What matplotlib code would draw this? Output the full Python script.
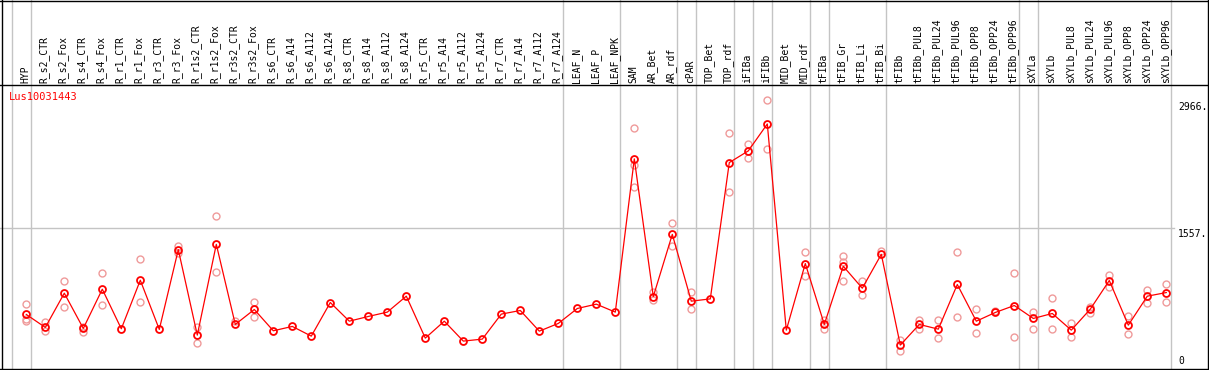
import numpy as np
import matplotlib
matplotlib.use("Agg")
import matplotlib.pyplot as plt

categories = ["HYP", "R_s2_CTR", "R_s2_Fox", "R_s4_CTR", "R_s4_Fox", "R_r1_CTR", "R_r1_Fox",
              "R_r3_CTR", "R_r3_Fox", "R_r1s2_CTR", "R_r1s2_Fox", "R_r3s2_CTR", "R_r3s2_Fox",
              "R_s6_CTR", "R_s6_A14", "R_s6_A112", "R_s6_A124", "R_s8_CTR", "R_s8_A14",
              "R_s8_A112", "R_s8_A124", "R_r5_CTR", "R_r5_A14", "R_r5_A112", "R_r5_A124",
              "R_r7_CTR", "R_r7_A14", "R_r7_A112", "R_r7_A124", "LEAF_N", "LEAF_P", "LEAF_NPK",
              "SAM", "AR_Bet", "AR_rdf", "cPAR", "TOP_Bet", "TOP_rdf", "iFIBa", "iFIBb",
              "MID_Bet", "MID_rdf", "tFIBa", "tFIB_Gr", "tFIB_Li", "tFIB_Bi", "tFIBb",
              "tFIBb_PUL8", "tFIBb_PUL24", "tFIBb_PUL96", "tFIBb_OPP8", "tFIBb_OPP24",
              "tFIBb_OPP96", "sXYLa", "sXYLb", "sXYLb_PUL8", "sXYLb_PUL24", "sXYLb_PUL96",
              "sXYLb_OPP8", "sXYLb_OPP24", "sXYLb_OPP96"]

means = [602, 459, 837, 448, 881, 444, 980, 437, 1318, 374, 1376, 492, 657,
         422, 470, 363, 734, 528, 580, 628, 804, 341, 528, 308, 330,
         606, 646, 418, 503, 668, 716, 628,
         2320, 800, 1486, 749, 774, 2279, 2408, 2705,
         429, 1164, 492, 1134, 892, 1266, 264,
         492, 440, 933, 528, 624, 701, 558, 613,
         429, 661, 977, 484, 804, 844]

nan = np.nan
rep1 = [723, 514, 977, 466, 1057, nan, 1219, nan, 1358, 462, 1685, 528, 738,
        nan, nan, nan, nan, nan, nan, nan, nan, nan, nan, nan, nan,
        nan, nan, nan, nan, nan, nan, nan,
        2664, 848, 1615, 848, nan, 2609, 2485, 2966,
        nan, 1296, 539, 1244, 977, 1302, 319,
        539, 539, 1296, 661, 642, 1057, 631, 789,
        503, 686, 1035, 584, 870, 933]
rep2 = [532, 422, 690, 404, 712, nan, 745, nan, 1281, 283, 1076, nan, 576,
        nan, nan, nan, nan, nan, nan, nan, nan, nan, nan, nan, nan,
        nan, nan, nan, nan, nan, nan, nan,
        2257, 760, 1362, 657, nan, 1949, 2331, 2430,
        nan, 1024, 444, 1181, 822, nan, 198,
        444, 338, 569, 396, nan, 352, 437, 437,
        349, 620, 906, 385, 734, 745]
rep3 = [547, nan, nan, nan, nan, nan, nan, nan, nan, nan, nan, nan, nan,
        nan, nan, nan, nan, nan, nan, nan, nan, nan, nan, nan, nan,
        nan, nan, nan, nan, nan, nan, nan,
        2007, nan, nan, nan, nan, nan, nan, nan,
        nan, nan, nan, 977, nan, nan, nan,
        nan, nan, nan, nan, nan, nan, nan, nan,
        nan, nan, nan, nan, nan, nan]

group_breaks = [-1, 0, 28, 31, 34, 35, 37, 38, 39, 41, 42, 45, 52, 53, 60]
gene_name = "Lus10031443"
ytick_vals = [0, 1557, 2966]
ytick_labels = ["0", "1557.", "2966."]

W, H = 1209, 370
X0, DX = 26.3, 19.0          # pixel of first category, pixel spacing
Y0, VPP = 369.0, 11.04       # pixel of value 0, value per pixel


def px2x(px):
    return (px - X0) / DX


def py2v(py):
    return (Y0 - py) * VPP


fig = plt.figure(figsize=(W / 100, H / 100), dpi=100)
ax = fig.add_axes([0, 0, 1, 1])
ax.set_xlim(px2x(0), px2x(W))
ax.set_ylim(py2v(H), py2v(0))
ax.axis("off")

mono = "DejaVu Sans Mono"
grid_c = "#c4c4c4"
x = np.arange(len(categories))

# vertical group separators (full height)
for b in group_breaks:
    ax.axvline(b + 0.23, color=grid_c, lw=1.0, zorder=1)

# horizontal gridline at middle tick
ax.plot([px2x(0), px2x(1174)], [ytick_vals[1], ytick_vals[1]], color=grid_c, lw=1.0, zorder=1)

# frame lines
fl = 1.0
ax.plot([px2x(1.5), px2x(1.5)], [py2v(0), py2v(370)], color="black", lw=fl, zorder=5)
ax.plot([px2x(1207.5), px2x(1207.5)], [py2v(0), py2v(370)], color="black", lw=fl, zorder=5)
ax.plot([px2x(0), px2x(W)], [py2v(1), py2v(1)], color="black", lw=fl, zorder=5)
ax.plot([px2x(0), px2x(W)], [py2v(85), py2v(85)], color="black", lw=fl, zorder=5)
ax.plot([px2x(0), px2x(W)], [py2v(369), py2v(369)], color="black", lw=fl, zorder=5)

# category labels in header
for i, lab in enumerate(categories):
    ax.text(i - 0.05, py2v(83), lab, rotation=90, ha="center", va="bottom",
            fontsize=7, family=mono, color="black")

# replicates
rep_c = "#ef9a9a"
for reps in (rep1, rep2, rep3):
    ax.plot(x, reps, ls="none", marker="o", ms=5, mfc="none", mec=rep_c, mew=1.0, zorder=3)

# mean line and markers
ax.plot(x, means, color="#ff0000", lw=0.9, zorder=4)
ax.plot(x, means, ls="none", marker="o", ms=5, mfc="none", mec="#ff0000", mew=1.3, zorder=4)

# gene name
ax.text(px2x(9), py2v(97), gene_name, color="#ff0000", fontsize=7.5, family=mono,
        ha="left", va="center")

# y tick labels
ax.text(px2x(1178), py2v(102), ytick_labels[2], fontsize=7, family=mono, ha="left", va="top")
ax.text(px2x(1178), py2v(229), ytick_labels[1], fontsize=7, family=mono, ha="left", va="top")
ax.text(px2x(1178), py2v(366), ytick_labels[0], fontsize=7, family=mono, ha="left", va="bottom")

fig.savefig("out.png", dpi=100)
